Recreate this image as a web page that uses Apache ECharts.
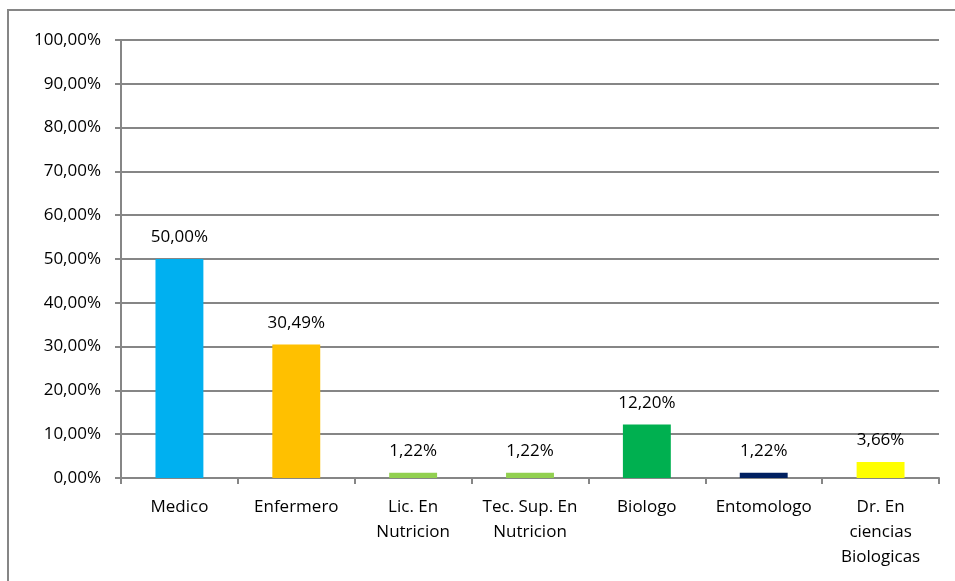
<!DOCTYPE html>
<html>
<head>
<meta charset="utf-8">
<script src="https://cdn.jsdelivr.net/npm/echarts@6/dist/echarts.min.js"></script>
<style>
  html, body { margin: 0; padding: 0; background: #fff; }
  #main { width: 955px; height: 581px; }
</style>
</head>
<body>
<div id="main"></div>
<script>
var categories = ['Medico', 'Enfermero', 'Lic. En\nNutricion', 'Tec. Sup. En\nNutricion', 'Biologo', 'Entomologo', 'Dr. En\nciencias\nBiologicas'];
var values = [50.00, 30.49, 1.22, 1.22, 12.20, 1.22, 3.66];
var colors = ['#00B0F0', '#FFC000', '#92D050', '#92D050', '#00B050', '#002060', '#FFFF00'];

var myChart = echarts.init(document.getElementById('main'));
var fontFam = '"Open Sans", "Noto Sans", sans-serif';

function pct(v) {
	return v.toFixed(2).replace('.', ',') + '%';
}

var option = {
	backgroundColor: '#fff',
	animation: false,
	graphic: [{
		type: 'rect',
		shape: { x: 8, y: 10, width: 960, height: 590 },
		style: { fill: 'none', stroke: '#868686', lineWidth: 2 },
		silent: true
	}],
	grid: {
		left: 121,
		right: 16,
		top: 40,
		bottom: 103
	},
	xAxis: {
		type: 'category',
		data: categories,
		axisLine: { lineStyle: { color: '#868686', width: 2 } },
		axisTick: { show: true, alignWithLabel: false, length: 6, lineStyle: { color: '#868686', width: 2 } },
		axisLabel: {
			color: '#000',
			fontSize: 17,
			fontFamily: fontFam,
			lineHeight: 25,
			margin: 17,
			interval: 0
		}
	},
	yAxis: {
		type: 'value',
		min: 0,
		max: 100,
		interval: 10,
		axisLine: { show: true, lineStyle: { color: '#868686', width: 2 } },
		axisTick: { show: true, length: 6, lineStyle: { color: '#868686', width: 2 } },
		splitLine: { lineStyle: { color: '#868686', width: 2 } },
		axisLabel: {
			color: '#000',
			fontSize: 17,
			fontFamily: fontFam,
			margin: 20,
			formatter: function(v) { return pct(v); }
		}
	},
	series: [{
		type: 'bar',
		barWidth: '41%',
		data: values.map(function(v, i) {
			return { value: v, itemStyle: { color: colors[i] } };
		}),
		label: {
			show: true,
			position: 'top',
			distance: 13,
			color: '#000',
			fontSize: 17,
			fontFamily: fontFam,
			formatter: function(p) { return pct(p.value); }
		}
	}]
};

myChart.setOption(option);
</script>
</body>
</html>
